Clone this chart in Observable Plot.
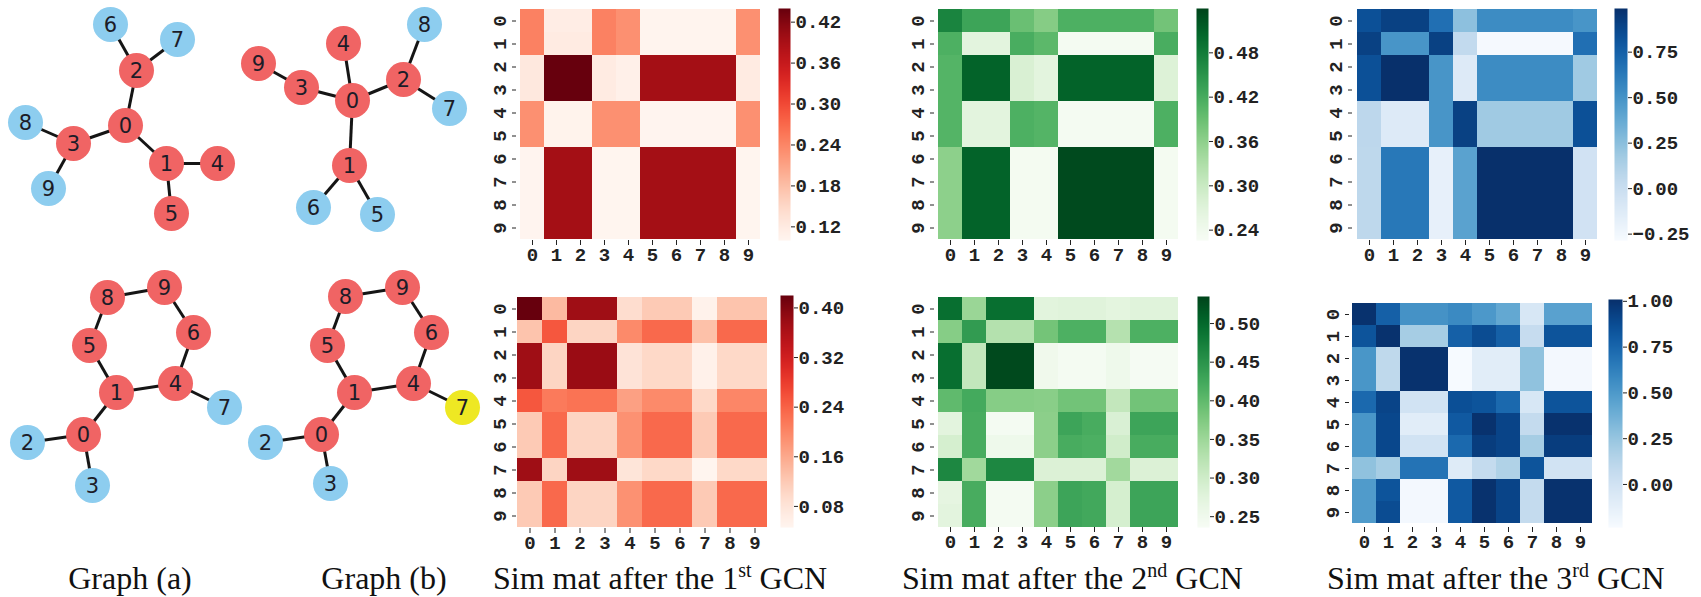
<!DOCTYPE html>
<html><head><meta charset="utf-8">
<script src="https://cdn.jsdelivr.net/npm/d3@7"></script>
<script src="https://cdn.jsdelivr.net/npm/@observablehq/plot@0.6"></script>
<style>
html,body{margin:0;padding:0;background:#fff;}
#root{position:relative;width:1701px;height:597px;overflow:hidden;background:#fff;}
.title{position:absolute;font-family:"Liberation Serif",serif;font-size:32px;line-height:32px;color:#111;white-space:nowrap;}
.title sup{font-size:20px;line-height:0;vertical-align:baseline;position:relative;top:-12px;}
</style></head><body><div id="root"></div>
<script>
// ---------------- data ----------------
const nodeIds = [0,1,2,3,4,5,6,7,8,9];

// Similarity matrices (rows = nodes of one graph, cols = nodes of the other)
const simTop1 = [
  [0.245,0.115,0.115,0.245,0.23,0.103,0.103,0.103,0.103,0.23],
  [0.245,0.12,0.12,0.245,0.23,0.103,0.103,0.103,0.103,0.23],
  [0.125,0.44,0.44,0.12,0.11,0.395,0.395,0.395,0.395,0.12],
  [0.125,0.44,0.44,0.12,0.11,0.395,0.395,0.395,0.395,0.12],
  [0.23,0.105,0.105,0.23,0.23,0.102,0.102,0.102,0.102,0.23],
  [0.23,0.105,0.105,0.23,0.23,0.102,0.102,0.102,0.102,0.23],
  [0.102,0.395,0.395,0.101,0.101,0.395,0.395,0.395,0.395,0.101],
  [0.102,0.395,0.395,0.101,0.101,0.395,0.395,0.395,0.395,0.101],
  [0.102,0.395,0.395,0.101,0.101,0.395,0.395,0.395,0.395,0.101],
  [0.102,0.395,0.395,0.101,0.101,0.395,0.395,0.395,0.395,0.101]
];
const simTop2 = [
  [0.471,0.43,0.43,0.39,0.367,0.414,0.414,0.414,0.414,0.383],
  [0.414,0.265,0.265,0.418,0.402,0.232,0.232,0.232,0.232,0.418],
  [0.408,0.509,0.509,0.28,0.265,0.509,0.509,0.509,0.509,0.275],
  [0.408,0.509,0.509,0.28,0.265,0.509,0.509,0.509,0.509,0.275],
  [0.408,0.265,0.265,0.414,0.408,0.232,0.232,0.232,0.232,0.414],
  [0.408,0.265,0.265,0.414,0.408,0.232,0.232,0.232,0.232,0.414],
  [0.361,0.509,0.509,0.233,0.233,0.534,0.534,0.534,0.534,0.233],
  [0.361,0.509,0.509,0.233,0.233,0.534,0.534,0.534,0.534,0.233],
  [0.361,0.509,0.509,0.233,0.233,0.534,0.534,0.534,0.534,0.233],
  [0.361,0.509,0.509,0.233,0.233,0.534,0.534,0.534,0.534,0.233]
];
const simTop3 = [
  [0.834,0.91,0.91,0.68,0.245,0.54,0.54,0.54,0.54,0.49],
  [0.91,0.49,0.49,0.91,0.04,-0.27,-0.27,-0.27,-0.27,0.68],
  [0.834,0.99,0.99,0.49,-0.12,0.54,0.54,0.54,0.54,0.18],
  [0.834,0.99,0.99,0.49,-0.12,0.54,0.54,0.54,0.54,0.18],
  [0.066,-0.12,-0.12,0.49,0.91,0.18,0.18,0.18,0.18,0.834],
  [0.066,-0.12,-0.12,0.49,0.91,0.18,0.18,0.18,0.18,0.834],
  [0.06,0.64,0.64,-0.18,0.42,0.99,0.99,0.99,0.99,-0.04],
  [0.06,0.64,0.64,-0.18,0.42,0.99,0.99,0.99,0.99,-0.04],
  [0.06,0.64,0.64,-0.18,0.42,0.99,0.99,0.99,0.99,-0.04],
  [0.06,0.64,0.64,-0.18,0.42,0.99,0.99,0.99,0.99,-0.04]
];
const simBot1 = [
  [0.42,0.14,0.375,0.375,0.093,0.12,0.12,0.053,0.128,0.128],
  [0.128,0.252,0.106,0.106,0.196,0.233,0.233,0.132,0.233,0.233],
  [0.375,0.106,0.38,0.38,0.083,0.10,0.10,0.055,0.10,0.10],
  [0.375,0.106,0.38,0.38,0.083,0.10,0.10,0.055,0.10,0.10],
  [0.252,0.214,0.222,0.222,0.17,0.196,0.196,0.10,0.20,0.20],
  [0.12,0.233,0.106,0.106,0.188,0.233,0.233,0.12,0.233,0.233],
  [0.12,0.233,0.106,0.106,0.188,0.233,0.233,0.12,0.233,0.233],
  [0.375,0.106,0.375,0.375,0.08,0.10,0.10,0.047,0.10,0.10],
  [0.12,0.233,0.106,0.106,0.188,0.233,0.233,0.12,0.233,0.233],
  [0.12,0.233,0.106,0.106,0.188,0.233,0.233,0.12,0.233,0.233]
];
const simBot2 = [
  [0.493,0.353,0.493,0.493,0.275,0.278,0.278,0.272,0.278,0.278],
  [0.37,0.442,0.329,0.329,0.385,0.415,0.415,0.328,0.415,0.415],
  [0.493,0.314,0.53,0.53,0.251,0.242,0.242,0.254,0.24,0.24],
  [0.493,0.314,0.53,0.53,0.251,0.242,0.242,0.254,0.24,0.24],
  [0.40,0.423,0.37,0.37,0.368,0.386,0.386,0.314,0.386,0.386],
  [0.273,0.42,0.242,0.242,0.365,0.43,0.42,0.287,0.43,0.43],
  [0.293,0.42,0.254,0.254,0.365,0.42,0.416,0.299,0.42,0.42],
  [0.466,0.347,0.466,0.466,0.284,0.284,0.284,0.346,0.284,0.284],
  [0.269,0.42,0.242,0.242,0.365,0.43,0.425,0.293,0.43,0.43],
  [0.273,0.42,0.242,0.242,0.365,0.43,0.425,0.293,0.43,0.43]
];
const simBot3 = [
  [1.0,0.78,0.537,0.537,0.58,0.506,0.42,-0.037,0.457,0.457],
  [0.84,1.0,0.197,0.197,0.78,0.877,0.78,0.061,0.84,0.84],
  [0.518,0.098,1.0,1.0,-0.23,-0.099,-0.099,0.271,-0.21,-0.21],
  [0.518,0.098,1.0,1.0,-0.23,-0.099,-0.099,0.271,-0.21,-0.21],
  [0.74,0.914,0.0,0.0,0.864,0.84,0.74,-0.037,0.84,0.84],
  [0.518,0.9,-0.099,-0.099,0.815,1.0,0.914,0.074,1.0,1.0],
  [0.518,0.9,0.0,0.0,0.74,0.95,0.914,0.197,0.95,0.95],
  [0.271,0.197,0.69,0.69,-0.08,0.074,0.16,0.84,0.0,0.0],
  [0.49,0.84,-0.21,-0.21,0.815,1.0,0.914,0.074,1.0,1.0],
  [0.49,0.877,-0.21,-0.21,0.815,1.0,0.914,0.074,1.0,1.0]
];

// colour-bar ranges and tick labels
const domTop1 = [0.10, 0.44],  ticksTop1 = [0.12,0.18,0.24,0.30,0.36,0.42];
const domTop2 = [0.226, 0.54], ticksTop2 = [0.24,0.30,0.36,0.42,0.48];
const domTop3 = [-0.285, 0.99], ticksTop3 = [-0.25,0.00,0.25,0.50,0.75];
const domBot1 = [0.046, 0.42], ticksBot1 = [0.08,0.16,0.24,0.32,0.40];
const domBot2 = [0.236, 0.535], ticksBot2 = [0.25,0.30,0.35,0.40,0.45,0.50];
const domBot3 = [-0.235, 1.01], ticksBot3 = [0.00,0.25,0.50,0.75,1.00];

// graph layouts: node id, x, y (layout units), group
const graphATop = [
  [0,125,125,"core"],[1,166,163,"core"],[2,136,70,"core"],[3,73,143,"core"],[4,217,163,"core"],
  [5,171,213,"core"],[6,110,24,"leaf"],[7,177,39,"leaf"],[8,25,122,"leaf"],[9,48,188,"leaf"]
];
const edgesATop = [[2,6],[2,7],[0,2],[0,3],[3,8],[3,9],[0,1],[1,4],[1,5]];
const graphBTop = [
  [0,352,100,"core"],[1,349,165,"core"],[2,403,79,"core"],[3,301,87,"core"],[4,343,43,"core"],
  [5,377,214,"leaf"],[6,313,207,"leaf"],[7,449,108,"leaf"],[8,424,24,"leaf"],[9,258,63,"core"]
];
const edgesBTop = [[9,3],[3,0],[4,0],[0,2],[2,8],[2,7],[0,1],[1,6],[1,5]];
const graphABot = [
  [0,83,434,"core"],[1,116,392,"core"],[2,27,442,"leaf"],[3,92,485,"leaf"],[4,175,383,"core"],
  [5,89,345,"core"],[6,193,332,"core"],[7,224,407,"leaf"],[8,107,297,"core"],[9,164,287,"core"]
];
const edgesABot = [[8,9],[9,6],[6,4],[4,1],[1,5],[5,8],[4,7],[1,0],[0,2],[0,3]];
const graphBBot = [
  [0,321,434,"core"],[1,354,392,"core"],[2,265,442,"leaf"],[3,330,483,"leaf"],[4,413,383,"core"],
  [5,327,345,"core"],[6,431,332,"core"],[7,462,407,"added"],[8,345,296,"core"],[9,402,287,"core"]
];
const edgesBBot = [[8,9],[9,6],[6,4],[4,1],[1,5],[5,8],[4,7],[1,0],[0,2],[0,3]];

const groupNames = ["core","leaf","added"];
const groupColors = ["#f06464","#8dcdef","#eee823"];

// ---------------- layout ----------------
const root = document.getElementById("root");
function place(el, left, top){
  el.style.position = "absolute";
  el.style.left = left + "px";
  el.style.top = top + "px";
  root.appendChild(el);
}
const tickFont = {fontFamily: "Liberation Mono", fontSize: 19, fontWeight: "bold"};
const svgStyle = {color: "#222", background: "transparent", overflow: "visible"};

function heatmap(mat, scheme, domain, frame){
  const [fx, fy, fw, fh] = frame;
  const cells = mat.flatMap((row, r) => row.map((v, c) => ({row: nodeIds[r], col: nodeIds[c], v})));
  const mL = 44, mT = 4, mR = 4, mB = 34;
  const svg = Plot.plot({
    width: fw + mL + mR, height: fh + mT + mB,
    marginLeft: mL, marginTop: mT, marginRight: mR, marginBottom: mB,
    style: svgStyle,
    x: {type: "band", domain: nodeIds, padding: 0},
    y: {type: "band", domain: nodeIds, padding: 0},
    color: {type: "linear", scheme, domain},
    marks: [
      Plot.cell(cells, {x: "col", y: "row", fill: "v", inset: 0}),
      Plot.axisX({anchor: "bottom", tickSize: 5, tickPadding: 2, label: null, ...tickFont}),
      Plot.axisY({anchor: "left", tickSize: 4, tickRotate: -90, tickPadding: 7, label: null, ...tickFont})
    ]
  });
  place(svg, fx - mL, fy - mT);
}

function colorbar(scheme, domain, ticks, frame){
  const [fx, fy, fw, fh] = frame;
  const mL = 0, mT = 4, mR = 75, mB = 4;
  const svg = Plot.plot({
    width: fw + mL + mR, height: fh + mT + mB,
    marginLeft: mL, marginTop: mT, marginRight: mR, marginBottom: mB,
    style: svgStyle,
    x: {domain: [0, 1], axis: null},
    y: {domain, axis: null},
    color: {type: "linear", scheme, domain},
    marks: [
      Plot.raster({x1: 0, x2: 1, y1: domain[0], y2: domain[1], fill: (x, y) => y}),
      Plot.axisY({anchor: "right", ticks, tickSize: 4, tickPadding: 1, tickFormat: d3.format(".2f"), label: null, ...tickFont})
    ]
  });
  place(svg, fx - mL, fy - mT);
}

heatmap(simTop1, "reds",   domTop1, [516, 8, 247, 232]);
colorbar("reds",   domTop1, ticksTop1, [778, 8, 12, 232]);
heatmap(simTop2, "greens", domTop2, [934, 8, 248, 232]);
colorbar("greens", domTop2, ticksTop2, [1196, 8, 12, 232]);
heatmap(simTop3, "blues",  domTop3, [1352, 8, 249, 232]);
colorbar("blues",  domTop3, ticksTop3, [1614, 8, 13, 232]);

heatmap(simBot1, "reds",   domBot1, [516, 295, 251, 233]);
colorbar("reds",   domBot1, ticksBot1, [780, 295, 13, 232]);
heatmap(simBot2, "greens", domBot2, [934, 296, 248, 231]);
colorbar("greens", domBot2, ticksBot2, [1197, 296, 12, 231]);
heatmap(simBot3, "blues",  domBot3, [1349, 299, 246, 228]);
colorbar("blues",  domBot3, ticksBot3, [1608, 299, 14, 228]);

// graphs
const graphs = [[graphATop, edgesATop], [graphBTop, edgesBTop], [graphABot, edgesABot], [graphBBot, edgesBBot]];
const nodes = graphs.flatMap(([g], gi) => g.map(([id, x, y, grp]) => ({gi, id, x, y, grp})));
const links = graphs.flatMap(([g, e], gi) => {
  const pos = new Map(g.map(([id, x, y]) => [id, [x, y]]));
  return e.map(([a, b]) => ({x1: pos.get(a)[0], y1: pos.get(a)[1], x2: pos.get(b)[0], y2: pos.get(b)[1]}));
});
const gsvg = Plot.plot({
  width: 490, height: 520, margin: 0,
  style: {background: "transparent", overflow: "visible"},
  x: {domain: [0, 490], range: [0, 490], axis: null},
  y: {domain: [0, 520], range: [0, 520], axis: null},
  color: {domain: groupNames, range: groupColors},
  marks: [
    Plot.link(links, {x1: "x1", y1: "y1", x2: "x2", y2: "y2", stroke: "#151515", strokeWidth: 3}),
    Plot.dot(nodes, {x: "x", y: "y", r: 17.5, fill: "grp", stroke: "none"}),
    Plot.text(nodes, {x: "x", y: "y", text: "id", fill: "#1c1c28", fontSize: 21, fontFamily: "DejaVu Sans", dy: 1})
  ]
});
place(gsvg, 0, 0);

// captions
const captions = [
  {html: "Graph (a)", left: 30, width: 200, align: "center"},
  {html: "Graph (b)", left: 284, width: 200, align: "center"},
  {html: "Sim mat after the 1<sup>st</sup> GCN", left: 493},
  {html: "Sim mat after the 2<sup>nd</sup> GCN", left: 902},
  {html: "Sim mat after the 3<sup>rd</sup> GCN", left: 1327}
];
for (const c of captions) {
  const d = document.createElement("div");
  d.className = "title";
  d.innerHTML = c.html;
  d.style.left = c.left + "px";
  d.style.top = "562px";
  if (c.width) { d.style.width = c.width + "px"; d.style.textAlign = c.align; }
  root.appendChild(d);
}
</script></body></html>
